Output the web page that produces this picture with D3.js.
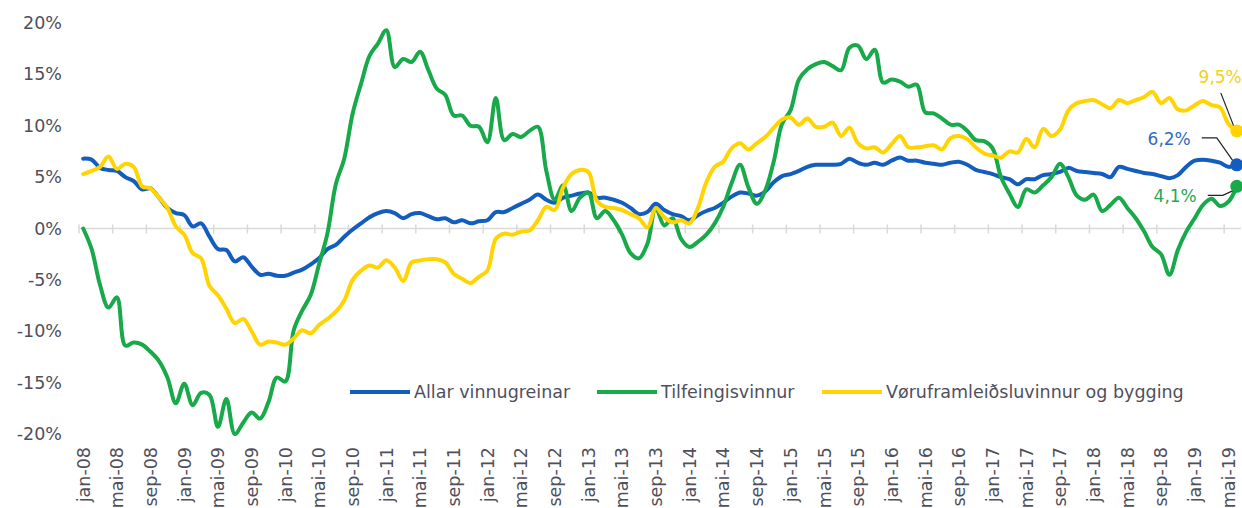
<!DOCTYPE html>
<html>
<head>
<meta charset="utf-8">
<script src="https://cdn.jsdelivr.net/npm/d3@7"></script>
<style>
  body { margin: 0; background: #fff; }
  svg { display: block; font-family: "DejaVu Sans", Verdana, sans-serif; }
  .tick text, .lab { fill: #4f4f5c; }
</style>
</head>
<body>
<div class="lineChart"></div>
<script>
const WIDTH = 1242;
const HEIGHT = 508;
const LEFT = 79, RIGHT = 1241, TOP = 23, BOTTOM = 434;

// month names and category labels jan-08 .. jun-19
const monthNames = ['jan', 'feb', 'mar', 'apr', 'mai', 'jun', 'jul', 'aug', 'sep', 'okt', 'nov', 'des'];
const categories = d3.range(138).map(function (i) {
    return monthNames[i % 12] + '-' + String(8 + Math.floor(i / 12)).padStart(2, '0');
});
const yTicks = [-20, -15, -10, -5, 0, 5, 10, 15, 20];

const seriesNames = ['Allar vinnugreinar', 'Tilfeingisvinnur', 'Vøruframleiðsluvinnur og bygging'];
const seriesColors = ['#135dbf', '#17a94a', '#ffd400'];
const endLabels = ['6,2%', '4,1%', '9,5%'];

const allar = [6.8, 6.7, 5.9, 5.7, 5.6, 5.0, 4.6, 3.8, 3.9, 3.0, 2.0, 1.5, 1.3, 0.2, 0.5, -0.8, -2.0, -2.1, -3.2, -2.8,
    -3.7, -4.5, -4.4, -4.6, -4.6, -4.3, -4.0, -3.5, -2.9, -2.0, -1.6, -0.8, -0.1, 0.5, 1.1, 1.5, 1.7, 1.5, 1.0, 1.4,
    1.5, 1.2, 0.9, 1.0, 0.6, 0.8, 0.5, 0.7, 0.8, 1.6, 1.6, 2.0, 2.4, 2.8, 3.3, 2.8, 2.5, 3.0, 3.2, 3.4,
    3.5, 3.0, 3.0, 2.8, 2.5, 2.0, 1.4, 1.6, 2.4, 1.8, 1.4, 1.2, 0.8, 1.3, 1.7, 2.0, 2.5, 3.1, 3.5, 3.4,
    3.2, 3.6, 4.5, 5.1, 5.3, 5.6, 6.0, 6.2, 6.2, 6.2, 6.3, 6.8, 6.4, 6.2, 6.4, 6.2, 6.6, 6.9, 6.6, 6.6,
    6.4, 6.3, 6.2, 6.4, 6.5, 6.2, 5.7, 5.5, 5.3, 5.0, 4.8, 4.3, 4.8, 4.8, 5.2, 5.3, 5.5, 5.9, 5.6, 5.5,
    5.4, 5.3, 5.0, 6.0, 5.8, 5.6, 5.4, 5.3, 5.1, 4.9, 5.2, 6.0, 6.6, 6.7, 6.6, 6.4, 6.0, 6.2];

const tilfeingis = [0.0, -2.0, -5.5, -7.7, -6.7, -11.4, -11.1, -11.3, -12.0, -12.9, -14.5, -17.0, -15.1, -17.2, -16.0, -16.2, -19.3, -16.6, -20.0, -18.9,
    -17.9, -18.5, -16.9, -14.5, -14.9, -9.9, -8.0, -6.5, -3.5, -0.5, 4.3, 6.8, 11.2, 14.1, 16.8, 18.0, 19.3, 15.7, 16.5, 16.2,
    17.2, 15.4, 13.6, 13.0, 11.0, 11.0, 10.0, 9.9, 8.4, 12.7, 8.6, 9.2, 8.9, 9.5, 9.9, 5.6, 2.8, 4.2, 1.7, 3.0,
    3.5, 1.0, 1.7, 0.8, -0.6, -2.4, -2.9, -1.5, 2.0, 0.3, 1.0, -1.0, -1.8, -1.3, -0.6, 0.5, 2.1, 4.4, 6.2, 4.0,
    2.4, 3.7, 6.5, 10.2, 11.5, 14.5, 15.5, 16.0, 16.2, 15.8, 15.4, 17.6, 17.8, 16.5, 17.4, 14.2, 14.5, 14.3, 13.8, 14.0,
    11.3, 11.2, 10.7, 10.1, 10.1, 9.5, 8.6, 8.5, 7.8, 5.0, 3.4, 2.1, 3.8, 3.5, 4.2, 5.0, 6.3, 5.0, 3.2, 2.8,
    3.3, 1.7, 2.3, 3.0, 2.0, 1.0, -0.3, -1.8, -2.5, -4.5, -2.1, -0.3, 1.0, 2.3, 2.9, 2.2, 2.6, 4.1];

const voruframleidsla = [5.3, 5.6, 6.0, 7.0, 5.8, 6.3, 6.0, 4.1, 3.9, 3.0, 2.0, 0.2, -0.6, -2.4, -2.9, -5.6, -6.5, -7.8, -9.2, -8.8,
    -10.0, -11.3, -11.0, -11.1, -11.3, -10.7, -9.9, -10.2, -9.4, -8.8, -8.1, -7.0, -5.0, -4.1, -3.6, -3.8, -3.1, -3.8, -5.1, -3.3,
    -3.1, -3.0, -3.0, -3.3, -4.4, -4.9, -5.3, -4.7, -4.1, -1.0, -0.5, -0.6, -0.3, -0.2, 0.8, 2.1, 1.8, 4.0, 5.3, 5.7,
    5.5, 2.7, 2.1, 2.0, 1.8, 1.4, 1.0, 0.1, 2.0, 1.1, 0.6, 0.8, 0.5, 2.0, 4.5, 6.0, 6.5, 7.8, 8.3, 7.7,
    8.3, 8.9, 9.8, 10.6, 10.8, 10.1, 10.7, 9.9, 9.9, 10.3, 9.0, 9.8, 8.3, 7.8, 7.9, 7.4, 8.2, 9.0, 7.9, 7.9,
    8.0, 8.1, 7.7, 8.8, 9.0, 8.7, 7.9, 7.3, 7.1, 6.9, 7.5, 7.4, 8.7, 7.9, 9.7, 9.0, 9.6, 11.5, 12.2, 12.4,
    12.5, 12.1, 11.7, 12.5, 12.2, 12.5, 12.8, 13.3, 12.2, 12.7, 11.6, 11.5, 12.0, 12.4, 12.0, 11.8, 10.2, 9.5];

const series = [allar, tilfeingis, voruframleidsla];

var xScale = d3.scaleBand().domain(categories).range([LEFT, RIGHT]);
var yScale = d3.scaleLinear().domain([-20, 20]).range([BOTTOM, TOP]);

function cx(i) {
    return xScale(categories[i]) + xScale.bandwidth() / 2;
}

var svg = d3.select('.lineChart').append('svg')
    .attr('width', WIDTH)
    .attr('height', HEIGHT);

// y axis labels
var yAxis = d3.axisLeft(yScale).tickValues(yTicks).tickSize(0).tickPadding(0)
    .tickFormat(function (d) { return d + '%'; });
var yAxisG = svg.append('g').attr('transform', 'translate(62,0)').call(yAxis);
yAxisG.select('.domain').remove();
yAxisG.selectAll('text').attr('font-size', '17.5px').attr('font-family', '"DejaVu Sans", Verdana, sans-serif');

// zero line with tick marks between categories
var zeroY = yScale(0);
svg.append('line')
    .attr('x1', LEFT).attr('x2', RIGHT)
    .attr('y1', zeroY).attr('y2', zeroY)
    .attr('stroke', '#d9d9d9').attr('stroke-width', 1.5);

var tickIdx = d3.range(0, categories.length, 4);
svg.append('g').selectAll('line').data(tickIdx).enter().append('line')
    .attr('x1', function (i) { return xScale(categories[i]); })
    .attr('x2', function (i) { return xScale(categories[i]); })
    .attr('y1', zeroY - 4).attr('y2', zeroY + 5)
    .attr('stroke', '#d9d9d9').attr('stroke-width', 1.5);

// x labels, rotated
svg.append('g').selectAll('text').data(tickIdx).enter().append('text')
    .attr('class', 'lab')
    .attr('transform', function (i) { return 'translate(' + cx(i) + ',447) rotate(-90)'; })
    .attr('text-anchor', 'end')
    .attr('dy', '0.36em')
    .attr('font-size', '17.5px')
    .text(function (i) { return categories[i]; });

// lines, in series order
var line = d3.line()
    .x(function (d, i) { return cx(i); })
    .y(function (d) { return yScale(d); })
    .curve(d3.curveCatmullRom.alpha(0.5));

series.forEach(function (vals, s) {
    svg.append('path')
        .attr('d', line(vals))
        .attr('fill', 'none')
        .attr('stroke', seriesColors[s])
        .attr('stroke-width', 4)
        .attr('stroke-linejoin', 'round')
        .attr('stroke-linecap', 'round');
});

// end markers, leader lines and labels
var last = categories.length - 1;
var labelOffsets = [
    { tx: -46, ty: -26, path: [[-35, -27], [-20, -27], [-1, 0]] },
    { tx: -40, ty: 10, path: [[-29, 9], [-14, 9], [-1, 3]] },
    { tx: 5, ty: -54, path: [[-16, -38], [-2, -2]] }
];
series.forEach(function (vals, s) {
    var px = cx(last), py = yScale(vals[last]);
    var o = labelOffsets[s];
    svg.append('path')
        .attr('d', d3.line()(o.path.map(function (p) { return [px + p[0], py + p[1]]; })))
        .attr('fill', 'none').attr('stroke', '#222').attr('stroke-width', 1.2);
    svg.append('circle')
        .attr('cx', px).attr('cy', py).attr('r', 6.5)
        .attr('fill', seriesColors[s]);
    svg.append('text')
        .attr('x', px + o.tx).attr('y', py + o.ty)
        .attr('text-anchor', 'end')
        .attr('dy', '0.35em')
        .attr('font-size', '17px')
        .attr('fill', s === 0 ? '#2f6cc4' : (s === 1 ? '#2aa653' : '#f5cf1c'))
        .text(endLabels[s]);
});

// legend
var legendX = [350, 597, 822];
var legendY = 392;
seriesNames.forEach(function (name, s) {
    svg.append('line')
        .attr('x1', legendX[s]).attr('x2', legendX[s] + 60)
        .attr('y1', legendY).attr('y2', legendY)
        .attr('stroke', seriesColors[s]).attr('stroke-width', 4);
    svg.append('text')
        .attr('class', 'lab')
        .attr('x', legendX[s] + 64).attr('y', legendY)
        .attr('dy', '0.35em')
        .attr('font-size', '17.5px')
        .text(name);
});
</script>
</body>
</html>
